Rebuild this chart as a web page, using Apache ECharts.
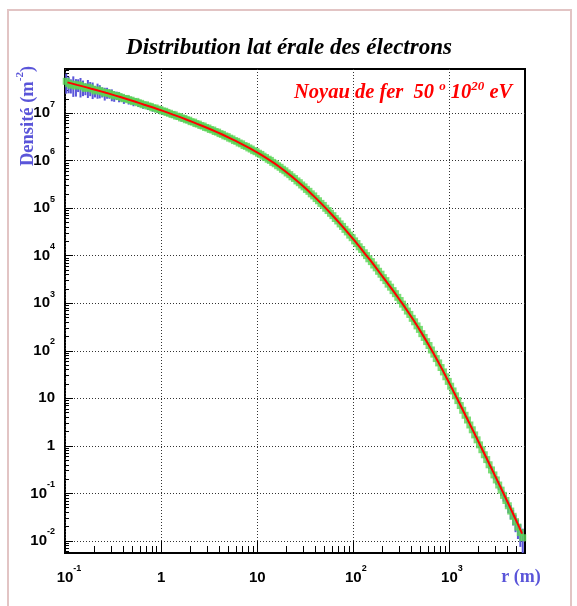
<!DOCTYPE html>
<html><head><meta charset="utf-8">
<script src="https://cdn.jsdelivr.net/npm/echarts@6/dist/echarts.min.js"></script>
<style>html,body{margin:0;padding:0;background:#fff}#c{width:577px;height:606px}</style>
</head><body><div id="c"></div>
<script>
// ---- data (r in metres, density in m^-2) ----
// measured bins (green points with blue error bars)
const binRadius = [0.103,0.109,0.115,0.122,0.130,0.137,0.145,0.154,0.163,0.173,0.183,0.194,0.205,0.218,0.230,0.244,0.259,0.274,0.290,0.307,
0.325,0.345,0.365,0.387,0.410,0.434,0.460,0.487,0.516,0.546,0.579,0.613,0.649,0.688,0.729,0.772,0.818,0.866,0.917,0.972,
1.03,1.09,1.15,1.22,1.30,1.37,1.45,1.54,1.63,1.73,1.83,1.94,2.05,2.18,2.30,2.44,2.59,2.74,2.90,3.07,
3.25,3.45,3.65,3.87,4.10,4.34,4.60,4.87,5.16,5.46,5.79,6.13,6.49,6.88,7.29,7.72,8.18,8.66,9.17,9.72,
10.3,10.9,11.5,12.2,13.0,13.7,14.5,15.4,16.3,17.3,18.3,19.4,20.5,21.8,23.0,24.4,25.9,27.4,29.0,30.7,
32.5,34.5,36.5,38.7,41.0,43.4,46.0,48.7,51.6,54.6,57.9,61.3,64.9,68.8,72.9,77.2,81.8,86.6,91.7,97.2,
103,109,115,122,130,137,145,154,163,173,183,194,205,218,230,244,259,274,290,307,
325,345,365,387,410,434,460,487,516,546,579,613,649,688,729,772,818,866,917,972,
1029,1090,1155,1223,1296,1373,1454,1540,1631,1728,1830,1939,2054,2175,2304,2441,2585,2738,2901,3073,
3255,3448,3652,3868,4097,4340,4597,4870,5158,5464,5788];
const electronDensity = [4.65e7,4.20e7,3.85e7,4.05e7,3.70e7,3.95e7,3.80e7,3.55e7,3.30e7,3.52e7,
3.38e7,3.18e7,2.92e7,3.08e7,2.95e7,2.80e7,2.62e7,2.70e7,2.56e7,2.46e7,
2.30e7,2.35e7,2.22e7,2.14e7,2.00e7,2.03e7,1.91e7,1.86e7,1.74e7,1.76e7,
1.65e7,1.60e7,1.50e7,1.49e7,1.41e7,1.38e7,1.29e7,1.28e7,1.21e7,1.18e7,
1.11e7,1.09e7,1.03e7,9.90e6,9.38e6,9.18e6,8.62e6,8.45e6,7.90e6,7.72e6,
7.25e6,7.08e6,6.60e6,6.45e6,6.02e6,5.86e6,5.49e6,5.33e6,4.98e6,4.84e6,
4.52e6,4.39e6,4.10e6,3.97e6,3.70e6,3.56e6,3.31e6,3.19e6,2.97e6,2.85e6,
2.64e6,2.54e6,2.35e6,2.25e6,2.08e6,1.99e6,1.85e6,1.75e6,1.62e6,1.54e6,
1.43e6,1.35e6,1.24e6,1.16e6,1.07e6,1.01e6,9.18e5,8.57e5,7.80e5,7.25e5,
6.57e5,6.10e5,5.50e5,5.07e5,4.56e5,4.21e5,3.74e5,3.43e5,3.07e5,2.80e5,
2.48e5,2.26e5,2.00e5,1.81e5,1.59e5,1.43e5,1.26e5,1.14e5,9.95e4,8.90e4,
7.80e4,6.95e4,6.05e4,5.37e4,4.66e4,4.13e4,3.58e4,3.16e4,2.71e4,2.39e4,
2.05e4,1.80e4,1.54e4,1.35e4,1.15e4,1.005e4,8.60e3,7.50e3,6.37e3,5.54e3,
4.70e3,4.08e3,3.45e3,2.99e3,2.52e3,2.18e3,1.84e3,1.59e3,1.33e3,1.14e3,
958,822,684,582,481,407,334,282,229,191,
156,129,104,85.0,68.5,55.6,44.5,35.9,28.4,22.7,
18.0,14.3,11.3,8.95,7.05,5.60,4.40,3.50,2.75,2.18,
1.70,1.34,1.05,0.83,0.65,0.515,0.40,0.312,0.245,0.192,
0.150,0.117,0.091,0.071,0.055,0.0425,0.033,0.0255,0.0196,0.0150,0.0117];
const relativeError = [0.45,0.38,0.33,0.46,0.40,0.30,0.44,0.36,0.28,0.41,0.33,0.38,0.27,0.35,0.31,0.24,0.30,0.26,0.22,0.28,
0.25,0.20,0.24,0.19,0.22,0.17,0.21,0.18,0.20,0.16,0.19,0.17,0.18,0.15,0.18,0.16,0.17,0.15,0.17,0.14,
0.17,0.15,0.16,0.14,0.16,0.15,0.15,0.14,0.16,0.13,0.15,0.14,0.15,0.13,0.14,0.13,0.14,0.12,0.14,0.13,
0.13,0.12,0.13,0.12,0.13,0.11,0.12,0.11,0.12,0.11,0.12,0.10,0.11,0.10,0.11,0.10,0.10,0.09,0.10,0.09,
0.09,0.08,0.09,0.08,0.08,0.07,0.07,0.07,0.07,0.06,0.06,0.06,0.06,0.05,0.05,0.05,0.05,0.05,0.05,0.05,
0.05,0.05,0.05,0.05,0.05,0.05,0.05,0.05,0.05,0.05,0.05,0.05,0.05,0.05,0.05,0.05,0.05,0.05,0.05,0.05,
0.05,0.05,0.05,0.05,0.05,0.05,0.05,0.05,0.05,0.05,0.05,0.05,0.05,0.05,0.05,0.05,0.05,0.05,0.05,0.05,
0.05,0.05,0.05,0.05,0.05,0.05,0.05,0.05,0.05,0.05,
0.06,0.06,0.06,0.06,0.06,0.07,0.07,0.07,0.08,0.08,0.08,0.08,0.09,0.09,0.10,0.10,0.11,0.11,0.12,0.12,
0.13,0.13,0.14,0.15,0.16,0.17,0.18,0.19,0.20,0.21,0.22,0.24,0.26,0.28,0.30,0.33,0.36,0.40,0.44,0.50,0.55];
// fitted lateral distribution (red curve)
const fitRadius = [0.106,0.119,0.133,0.150,0.168,0.188,0.211,0.237,0.266,0.299,
0.335,0.376,0.422,0.473,0.531,0.596,0.668,0.750,0.841,0.944,
1.06,1.19,1.33,1.50,1.68,1.88,2.11,2.37,2.66,2.99,
3.35,3.76,4.22,4.73,5.31,5.96,6.68,7.50,8.41,9.44,
10.6,11.9,13.3,15.0,16.8,18.8,21.1,23.7,26.6,29.9,
33.5,37.6,42.2,47.3,53.1,59.6,66.8,75.0,84.1,94.4,
106,119,133,150,168,188,211,237,266,299,
335,376,422,473,531,596,668,750,841,944,
1059,1189,1334,1496,1679,1884,2113,2371,2661,2985,
3350,3758,4217,4732,5309,5700];
const fitDensity = [4.42e7,4.16e7,3.92e7,3.69e7,3.47e7,3.25e7,3.05e7,2.86e7,2.67e7,2.50e7,
2.33e7,2.17e7,2.02e7,1.88e7,1.75e7,1.62e7,1.50e7,1.39e7,1.29e7,1.19e7,
1.10e7,1.01e7,9.29e6,8.53e6,7.82e6,7.14e6,6.53e6,5.94e6,5.41e6,4.91e6,
4.46e6,4.03e6,3.63e6,3.25e6,2.91e6,2.59e6,2.30e6,2.04e6,1.80e6,1.58e6,
1.39e6,1.20e6,1.04e6,8.87e5,7.52e5,6.33e5,5.28e5,4.38e5,3.59e5,2.93e5,
2.37e5,1.90e5,1.51e5,1.20e5,9.42e4,7.36e4,5.70e4,4.39e4,3.36e4,2.55e4,
1.92e4,1.44e4,1.08e4,8.03e3,5.94e3,4.38e3,3.21e3,2.35e3,1.71e3,1.23e3,
889,632,444,308,211,143,95.1,62.5,40.6,25.9,
16.4,10.3,6.47,4.06,2.54,1.58,0.984,0.611,0.378,0.234,
0.144,0.0884,0.0539,0.0327,0.0197,0.0142];
const xRange = [0.1, 6110];
const yRange = [0.00558, 8.45e7];
const xDecades = [-1, 0, 1, 2, 3];
const yDecades = [-2, -1, 0, 1, 2, 3, 4, 5, 6, 7];
const minorMultipliers = [2, 3, 4, 5, 6, 7, 8, 9];
const titleText = 'Distribution lat érale des électrons';

// ---- build ----
const BLUE = '#5a55d9', GREEN = '#59d454', RED = '#ff0000';
const L = Math.log10;
const xMin = L(xRange[0]), xMax = L(xRange[1]);
const yMin = L(yRange[0]), yMax = L(yRange[1]);
function minorTicks(lo, hi) {
  const out = [];
  for (let d = Math.floor(lo) - 1; d <= Math.ceil(hi); d++)
    for (const m of minorMultipliers) { const v = d + L(m); if (v > lo && v < hi) out.push(v); }
  return out;
}
function decLabel(v, centred) {
  v = Math.round(v);
  if (v === 0) return '{b|1}';
  if (v === 1) return '{b|10}';
  return (centred ? '{h|' + v + '}' : '') + '{b|10}{s|' + v + '}';
}
const SANS = 'Liberation Sans, Arial, sans-serif';
const labRich = {
  b: { fontFamily: SANS, fontWeight: 'bold', fontSize: 15, color: '#000', lineHeight: 27, verticalAlign: 'middle' },
  s: { fontFamily: SANS, fontWeight: 'bold', fontSize: 9, color: '#000', lineHeight: 9, verticalAlign: 'top' },
  h: { fontFamily: SANS, fontWeight: 'bold', fontSize: 9, color: 'rgba(0,0,0,0)', lineHeight: 9, verticalAlign: 'top' }
};
const greenData = binRadius.map((r, i) => [L(r), L(electronDensity[i])]);
const fitData = fitRadius.map((r, i) => [L(r), L(fitDensity[i])]);
const errData = binRadius.map((r, i) => {
  const v = electronDensity[i], e = v * relativeError[i];
  return [L(r), L(Math.max(v - e, 1e-9)), L(v + e)];
});
const serif = '"Liberation Serif", "Times New Roman", serif';
const noZero = { show: false, onZero: false };

const chart = echarts.init(document.getElementById('c'), null, { renderer: 'canvas' });
chart.setOption({
  animation: false,
  backgroundColor: '#fff',
  grid: { left: 65, top: 69, width: 460, height: 484, show: true, borderColor: '#000', borderWidth: 2, backgroundColor: 'transparent' },
  xAxis: [
    { type: 'value', min: xMin, max: xMax, gridIndex: 0, position: 'bottom',
      axisLine: noZero,
      axisTick: { show: true, inside: true, length: 12, customValues: xDecades, lineStyle: { color: '#000', width: 1 } },
      axisLabel: { show: true, customValues: xDecades, margin: 11, formatter: v => decLabel(v, true), rich: labRich },
      splitLine: { show: true, lineStyle: { color: '#333', width: 1, type: [1, 2] } } },
    { type: 'value', min: xMin, max: xMax, gridIndex: 0, position: 'bottom',
      axisLine: noZero,
      axisTick: { show: true, inside: true, length: 7, customValues: minorTicks(xMin, xMax), lineStyle: { color: '#000', width: 1 } },
      axisLabel: { show: false }, splitLine: { show: false } }
  ],
  yAxis: [
    { type: 'value', min: yMin, max: yMax, gridIndex: 0, position: 'left',
      axisLine: noZero,
      axisTick: { show: true, inside: true, length: 8, customValues: yDecades, lineStyle: { color: '#000', width: 1 } },
      axisLabel: { show: true, customValues: yDecades, margin: 10, formatter: v => decLabel(v, false), rich: labRich },
      splitLine: { show: true, lineStyle: { color: '#333', width: 1, type: [1, 2] } } },
    { type: 'value', min: yMin, max: yMax, gridIndex: 0, position: 'left',
      axisLine: noZero,
      axisTick: { show: true, inside: true, length: 4, customValues: minorTicks(yMin, yMax), lineStyle: { color: '#000', width: 1 } },
      axisLabel: { show: false }, splitLine: { show: false } }
  ],
  series: [
    { type: 'custom', name: 'err', xAxisIndex: 0, yAxisIndex: 0, clip: true,
      encode: { x: 0, y: [1, 2] }, data: errData,
      renderItem: (params, api) => {
        const p1 = api.coord([api.value(0), api.value(1)]);
        const p2 = api.coord([api.value(0), api.value(2)]);
        return { type: 'line', shape: { x1: p1[0], y1: p1[1], x2: p2[0], y2: p2[1] }, style: { stroke: BLUE, lineWidth: 2 } };
      } },
    { type: 'scatter', xAxisIndex: 0, yAxisIndex: 0, symbol: 'rect', symbolSize: 7, data: greenData,
      itemStyle: { color: GREEN }, clip: true },
    { type: 'line', xAxisIndex: 0, yAxisIndex: 0, data: fitData, showSymbol: false, symbol: 'none',
      lineStyle: { color: RED, width: 2 }, clip: true }
  ],
  graphic: [
    { type: 'polyline', silent: true, shape: { points: [[8, 606], [8, 10], [571, 10], [571, 606]] },
      style: { stroke: '#e2c4c4', lineWidth: 2, fill: null } },
    { type: 'text', x: 289, y: 48, silent: true,
      style: { text: titleText, font: 'italic bold 23px ' + serif, fill: '#000', textAlign: 'center', textVerticalAlign: 'middle' } },
    { type: 'text', x: 294, y: 93, silent: true,
      style: { text: '{n|Noyau de fer  50 }{s|o}{n| 10}{s|20}{n| eV}', textAlign: 'left', textVerticalAlign: 'middle',
        rich: {
          n: { fontFamily: serif, fontStyle: 'italic', fontWeight: 'bold', fontSize: 20.5, fill: RED, lineHeight: 26, verticalAlign: 'middle' },
          s: { fontFamily: serif, fontStyle: 'italic', fontWeight: 'bold', fontSize: 13, fill: RED, lineHeight: 12, verticalAlign: 'top' }
        } } },
    { type: 'text', x: 28, y: 116, rotation: Math.PI / 2, silent: true,
      style: { text: '{t|Densité (m}{s|-2}{t|)}', textAlign: 'center', textVerticalAlign: 'middle',
        rich: {
          t: { fontFamily: serif, fontWeight: 'bold', fontSize: 18.5, fill: BLUE, lineHeight: 26, verticalAlign: 'middle' },
          s: { fontFamily: serif, fontWeight: 'bold', fontSize: 11, fill: BLUE, lineHeight: 11, verticalAlign: 'top' }
        } } },
    { type: 'text', x: 521, y: 577, silent: true,
      style: { text: 'r (m)', font: 'bold 18px ' + serif, fill: BLUE, textAlign: 'center', textVerticalAlign: 'middle' } }
  ]
});
</script></body></html>
